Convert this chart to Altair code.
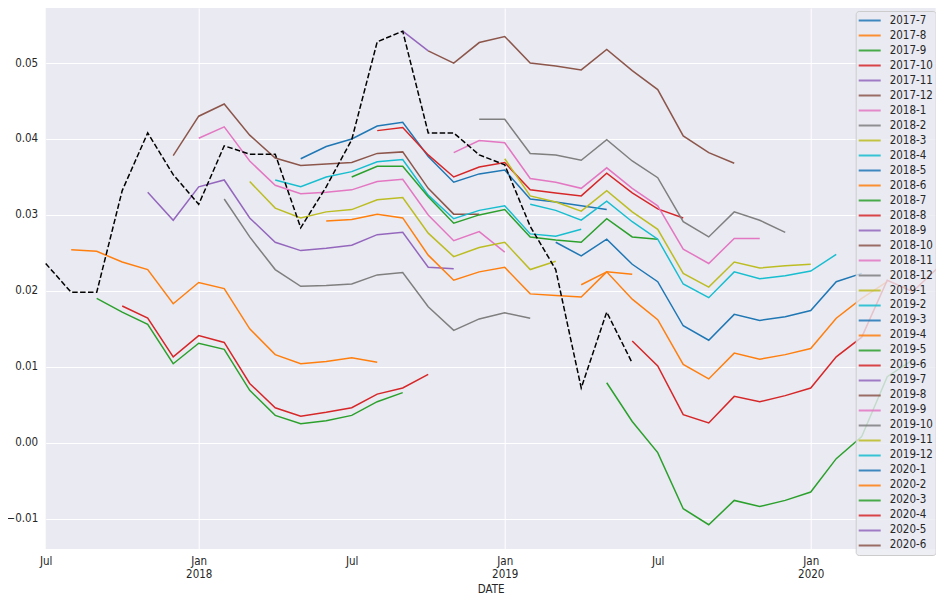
import json
import altair as alt
import pandas as pd

# ---- series names (legend order) ----
series_names = [
    "2017-7", "2017-8", "2017-9", "2017-10", "2017-11", "2017-12",
    "2018-1", "2018-2", "2018-3", "2018-4", "2018-5", "2018-6",
    "2018-7", "2018-8", "2018-9", "2018-10", "2018-11", "2018-12",
    "2019-1", "2019-2", "2019-3", "2019-4", "2019-5", "2019-6",
    "2019-7", "2019-8", "2019-9", "2019-10", "2019-11", "2019-12",
    "2020-1", "2020-2", "2020-3", "2020-4", "2020-5", "2020-6",
]
palette = ["#1f77b4", "#ff7f0e", "#2ca02c", "#d62728", "#9467bd",
           "#8c564b", "#e377c2", "#7f7f7f", "#bcbd22", "#17becf"]

# ---- monthly values, each series starts at its own month ----
v_2017_8 = [0.0254, 0.0252, 0.0238, 0.0228, 0.0183, 0.0211, 0.0203, 0.0150, 0.0116, 0.0104, 0.0107, 0.0112, 0.0106]
v_2017_9 = [0.0190, 0.0172, 0.0156, 0.0104, 0.0131, 0.0123, 0.0069, 0.0036, 0.0025, 0.0029, 0.0036, 0.0054, 0.0066]
v_2017_10 = [0.0180, 0.0164, 0.0113, 0.0141, 0.0132, 0.0078, 0.0046, 0.0035, 0.0040, 0.0046, 0.0064, 0.0072, 0.0090]
v_2017_11 = [0.0330, 0.0293, 0.0337, 0.0346, 0.0296, 0.0264, 0.0253, 0.0256, 0.0260, 0.0274, 0.0277, 0.0231, 0.0229]
v_2017_12 = [0.0378, 0.0430, 0.0446, 0.0405, 0.0375, 0.0365, 0.0367, 0.0369, 0.0381, 0.0383, 0.0335, 0.0301, 0.0301]
v_2018_1 = [0.0401, 0.0416, 0.0371, 0.0339, 0.0328, 0.0330, 0.0333, 0.0344, 0.0347, 0.0300, 0.0266, 0.0278, 0.0251]
v_2018_2 = [0.0321, 0.0271, 0.0228, 0.0206, 0.0207, 0.0209, 0.0221, 0.0224, 0.0179, 0.0148, 0.0163, 0.0171, 0.0164]
v_2018_3 = [0.0344, 0.0309, 0.0296, 0.0304, 0.0307, 0.0320, 0.0323, 0.0276, 0.0245, 0.0257, 0.0264, 0.0228, 0.0239]
v_2018_4 = [0.0346, 0.0337, 0.0350, 0.0357, 0.0370, 0.0373, 0.0326, 0.0295, 0.0306, 0.0312, 0.0275, 0.0272, 0.0281]
v_2018_5 = [0.0374, 0.0390, 0.0400, 0.0417, 0.0422, 0.0377, 0.0343, 0.0354, 0.0359, 0.0321, 0.0317, 0.0312, 0.0307]
v_2018_6 = [0.0292, 0.0294, 0.0301, 0.0296, 0.0247, 0.0214, 0.0225, 0.0231, 0.0196, 0.0194, 0.0192, 0.0225, 0.0222]
v_2018_7 = [0.0350, 0.0364, 0.0364, 0.0324, 0.0289, 0.0300, 0.0307, 0.0271, 0.0267, 0.0264, 0.0295, 0.0271, 0.0268]
v_2018_8 = [0.0411, 0.0415, 0.0379, 0.0350, 0.0363, 0.0369, 0.0333, 0.0329, 0.0325, 0.0355, 0.0329, 0.0308, 0.0296]
v_2018_9 = [0.0542, 0.0516]
v_2018_10 = [0.0516, 0.0500, 0.0527, 0.0535, 0.0500, 0.0496, 0.0491, 0.0518, 0.0490, 0.0465, 0.0404, 0.0382, 0.0368]
v_2018_11 = [0.0382, 0.0398, 0.0395, 0.0348, 0.0343, 0.0335, 0.0362, 0.0335, 0.0312, 0.0255, 0.0236, 0.0269, 0.0269]
v_2018_12 = [0.0426, 0.0426, 0.0381, 0.0379, 0.0372, 0.0399, 0.0371, 0.0349, 0.0291, 0.0271, 0.0304, 0.0293, 0.0277]
v_2019_1 = [0.0374, 0.0325, 0.0317, 0.0305, 0.0332, 0.0304, 0.0281, 0.0223, 0.0205, 0.0238, 0.0230, 0.0233, 0.0235]
v_2019_2 = [0.0314, 0.0306, 0.0293, 0.0318, 0.0291, 0.0268, 0.0209, 0.0191, 0.0225, 0.0216, 0.0220, 0.0226, 0.0248]
v_2019_3 = [0.0264, 0.0246, 0.0268, 0.0235, 0.0212, 0.0154, 0.0135, 0.0169, 0.0161, 0.0166, 0.0174, 0.0212, 0.0223]
v_2019_4 = [0.0208, 0.0225, 0.0189, 0.0162, 0.0103, 0.0084, 0.0118, 0.0110, 0.0116, 0.0124, 0.0164, 0.0190, 0.0212]
v_2019_5 = [0.0079, 0.0028, -0.0013, -0.0087, -0.0108, -0.0076, -0.0084, -0.0076, -0.0065, -0.0021, 0.0008, 0.0087, 0.0109]
v_2019_6 = [0.0134, 0.0101, 0.0037, 0.0026, 0.0061, 0.0054, 0.0062, 0.0072, 0.0113, 0.0139, 0.0214, 0.0199, 0.0231]

series_values = {
    "2017-8": v_2017_8, "2017-9": v_2017_9, "2017-10": v_2017_10,
    "2017-11": v_2017_11, "2017-12": v_2017_12, "2018-1": v_2018_1,
    "2018-2": v_2018_2, "2018-3": v_2018_3, "2018-4": v_2018_4,
    "2018-5": v_2018_5, "2018-6": v_2018_6, "2018-7": v_2018_7,
    "2018-8": v_2018_8, "2018-9": v_2018_9, "2018-10": v_2018_10,
    "2018-11": v_2018_11, "2018-12": v_2018_12, "2019-1": v_2019_1,
    "2019-2": v_2019_2, "2019-3": v_2019_3, "2019-4": v_2019_4,
    "2019-5": v_2019_5, "2019-6": v_2019_6,
}

# dashed reference series, monthly from 2017-7
ref_values = [0.0236, 0.0198, 0.0198, 0.0332, 0.0408, 0.0353, 0.0314, 0.0391,
              0.0380, 0.0380, 0.0283, 0.0337, 0.0399, 0.0528, 0.0542, 0.0408,
              0.0408, 0.0379, 0.0366, 0.0285, 0.0228, 0.0072, 0.0172, 0.0105]

# x tick labels (every 6 months from 2017-7)
tick_labels = [["Jul"], ["Jan", "2018"], ["Jul"], ["Jan", "2019"], ["Jul"], ["Jan", "2020"]]
y_ticks = [-0.01, 0.0, 0.01, 0.02, 0.03, 0.04, 0.05]


def month_index(name):
    y, m = name.split("-")
    return (int(y) - 2017) * 12 + int(m) - 7


rows = []
for name, vals in series_values.items():
    s = month_index(name)
    for i, v in enumerate(vals):
        rows.append({"series": name, "idx": s + i, "value": v})
df = pd.DataFrame(rows)
ref_df = pd.DataFrame({"idx": list(range(len(ref_values))), "value": ref_values})

colors = [palette[i % 10] for i in range(len(series_names))]
FONT = "DejaVu Sans Condensed, DejaVu Sans"
TXT = "#262626"

label_expr = json.dumps(tick_labels).replace('"', "'") + "[round(datum.value / 6)]"

x_scale = alt.Scale(domain=[0, 34.9], nice=False, zero=False)
y_scale = alt.Scale(domain=[-0.0140, 0.05725], nice=False, zero=False)

x_axis = alt.Axis(
    values=[0, 6, 12, 18, 24, 30], labelExpr=label_expr, title="DATE",
    ticks=False, domain=False, labelPadding=7, labelLineHeight=13,
    labelFontSize=11.5, labelColor=TXT, labelFont=FONT, labelBaseline="top",
    labelFlush=False, labelOverlap=False,
    titleFont=FONT, titleFontSize=11.5, titleFontWeight="normal", titleColor=TXT,
    titlePadding=3, grid=True, gridColor="white", gridWidth=1,
    gridOpacity={"condition": {"test": "datum.value % 12 == 6", "value": 1}, "value": 0},
)
y_axis = alt.Axis(
    values=y_ticks, format=".2f", title=None, ticks=False, domain=False,
    labelPadding=8, labelFontSize=11.5, labelColor=TXT, labelFont=FONT,
    labelFlush=False, grid=True, gridColor="white", gridWidth=1,
)

lines = alt.Chart(df).mark_line(strokeWidth=1.5).encode(
    x=alt.X("idx:Q", scale=x_scale, axis=x_axis),
    y=alt.Y("value:Q", scale=y_scale, axis=y_axis),
    color=alt.Color(
        "series:N",
        scale=alt.Scale(domain=series_names, range=colors),
        legend=alt.Legend(
            title=None, orient="none", legendX=810, legendY=3,
            symbolType="stroke", symbolSize=484, symbolStrokeWidth=2,
            symbolOpacity=0.85, clipHeight=15, rowPadding=0, padding=2,
            labelOffset=8, labelFontSize=11.5, labelFont=FONT, labelColor=TXT,
            fillColor="rgba(234,234,242,0.8)", strokeColor="#cccccc",
            cornerRadius=3, labelLimit=200, symbolLimit=50,
        ),
    ),
)

ref = alt.Chart(ref_df).mark_line(
    strokeWidth=1.5, color="black", strokeDash=[5.5, 2.4]
).encode(
    x=alt.X("idx:Q", scale=x_scale),
    y=alt.Y("value:Q", scale=y_scale),
)

chart = alt.layer(lines, ref).properties(
    width=890, height=541,
    padding={"left": 37.7, "top": 0, "right": 0, "bottom": 50},
    autosize=alt.AutoSizeParams(type="none"),
).configure_view(fill="#EAEAF2", stroke=None)

chart.save("out.html", embed_options={"renderer": "svg", "actions": False})
